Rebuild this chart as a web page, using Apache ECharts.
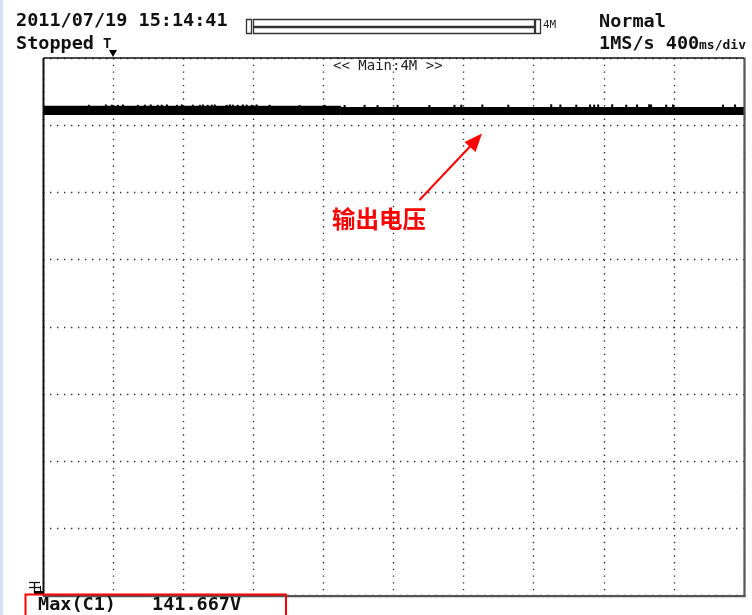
<!DOCTYPE html>
<html>
<head>
<meta charset="utf-8">
<title>输出电压</title>
<script src="https://cdn.jsdelivr.net/npm/echarts@6/dist/echarts.min.js"></script>
<style>
  html, body { margin: 0; padding: 0; background: #ffffff; }
  #chart { width: 752px; height: 615px; }
</style>
</head>
<body>
<div id="chart"></div>
<script>
// Time base: 400 ms/div, 10 divisions
const timeMinMs = 0;
const timeMaxMs = 4000;
const timeDivMs = 400;

// Vertical scale: 8 divisions, 0 V at the ground marker
const voltMin = 0;
const voltMax = 155;
const voltDiv = 19.375;

// Output-voltage envelope (solid band of the compressed trace)
const bandStartMs = [0, 1700];
const bandEndMs   = [1700, 4000];
const bandLowV    = [138.6, 138.6];
const bandHighV   = [141.25, 140.9];

// Short positive peaks riding on the envelope
const spikeMs = [262, 359, 393, 427, 456, 541, 581, 615, 655, 678, 707, 764, 792, 855, 895, 912, 940, 963, 980,
  1048, 1066, 1083, 1111, 1140, 1162, 1191, 1219, 1293, 1464, 1607, 1721, 1835, 1909, 2023, 2205, 2348, 2387,
  2507, 2655, 2900, 2952, 3043, 3122, 3145, 3168, 3248, 3328, 3390, 3459, 3470, 3556, 3595, 3880, 3949];
const spikeTopV = [141.5, 141.6, 141.55, 141.5, 141.6, 141.5, 141.55, 141.6, 141.5, 141.55, 141.6, 141.5, 141.6, 141.55, 141.5, 141.6, 141.5, 141.55, 141.6,
  141.5, 141.6, 141.55, 141.5, 141.6, 141.55, 141.5, 141.6, 141.5, 141.45, 141.5, 141.45, 141.5, 141.45, 141.5, 141.45, 141.5, 141.55,
  141.6, 141.55, 141.667, 141.6, 141.55, 141.6, 141.55, 141.6, 141.667, 141.55, 141.6, 141.667, 141.6, 141.55, 141.6, 141.55, 141.6];

const maxReading = '141.667V';

const bandData = bandStartMs.map((t, i) => [t, bandEndMs[i], bandLowV[i], bandHighV[i]]);
const spikeData = spikeMs.map((t, i) => [t, spikeTopV[i], bandLowV[t < bandEndMs[0] ? 0 : 1]]);

const MONO = '"DejaVu Sans Mono", "Liberation Mono", monospace';
const big = 'bold 18.5px ' + MONO;

const chart = echarts.init(document.getElementById('chart'), null, { renderer: 'canvas' });

function txt(text, x, y, font, fill, extra) {
  return Object.assign({
    type: 'text', z: 120, silent: true,
    style: { text: text, x: x, y: y, font: font, fill: fill || '#111', textVerticalAlign: 'middle', textAlign: 'left' }
  }, extra || {});
}
function seg(x1, y1, x2, y2, stroke, w) {
  return { type: 'line', z: 110, silent: true, shape: { x1: x1, y1: y1, x2: x2, y2: y2 }, style: { stroke: stroke, lineWidth: w } };
}
function box(x, y, w, h, stroke, lw) {
  return { type: 'rect', z: 110, silent: true, shape: { x: x, y: y, width: w, height: h }, style: { fill: null, stroke: stroke, lineWidth: lw } };
}

const option = {
  animation: false,
  backgroundColor: '#ffffff',
  grid: { left: 43, top: 58, width: 701, height: 537.6, show: false },
  xAxis: {
    type: 'value', min: timeMinMs, max: timeMaxMs, interval: timeDivMs,
    axisLine: { show: false }, axisTick: { show: false }, axisLabel: { show: false },
    splitLine: { show: true, lineStyle: { color: '#333', width: 1.4, type: [1.4, 5.32] } }
  },
  yAxis: {
    type: 'value', min: voltMin, max: voltMax, interval: voltDiv,
    axisLine: { show: false }, axisTick: { show: false }, axisLabel: { show: false },
    splitLine: { show: true, lineStyle: { color: '#333', width: 1.4, type: [1.4, 5.6] } }
  },
  series: [
    {
      name: '输出电压',
      type: 'custom',
      data: bandData,
      z: 5,
      renderItem: function (params, api) {
        const a = api.coord([api.value(0), api.value(3)]);
        const b = api.coord([api.value(1), api.value(2)]);
        return { type: 'rect', shape: { x: a[0], y: a[1], width: b[0] - a[0], height: b[1] - a[1] }, style: { fill: '#000' } };
      }
    },
    {
      name: 'peaks',
      type: 'custom',
      data: spikeData,
      z: 6,
      renderItem: function (params, api) {
        const top = api.coord([api.value(0), api.value(1)]);
        const base = api.coord([api.value(0), api.value(2)]);
        return { type: 'rect', shape: { x: top[0] - 1, y: top[1], width: 2, height: base[1] - top[1] }, style: { fill: '#000' } };
      }
    }
  ],
  graphic: [
    // window edge tint
    { type: 'rect', z: 100, silent: true, shape: { x: 0, y: 0, width: 3, height: 615 }, style: { fill: '#d4e4f2' } },

    // screen frame: dark top/left, shaded right/bottom
    seg(43.5, 58, 744, 58, '#111', 1.5),
    seg(43.5, 58, 43.5, 596, '#111', 2),
    seg(744.5, 57.5, 744.5, 597, '#555', 2.2),
    seg(43, 596.2, 745.5, 596.2, '#555', 2.2),

    // header
    txt('2011/07/19 15:14:41', 16, 21.5, big),
    txt('Stopped', 16, 44.5, big),
    txt('T', 103, 44, 'bold 14px ' + MONO),
    { type: 'polygon', z: 115, silent: true, shape: { points: [[109, 50], [117, 50], [113, 57]] }, style: { fill: '#000' } },

    // record-length bar
    box(246.5, 19.5, 5, 14, '#333', 1.3),
    box(253.5, 19.5, 281, 7, '#333', 1.3),
    box(253.5, 27.5, 281, 6, '#333', 1.3),
    box(535.5, 19.5, 5, 14, '#333', 1.3),
    txt('4M', 543, 25.5, '11px ' + MONO, '#222'),

    txt('Normal', 599, 22, big),
    txt('1MS/s 400', 599, 44.5, big),
    txt('ms/div', 699, 46, 'bold 13px ' + MONO),

    txt('<< Main:4M >>', 333, 66, '14px ' + MONO, '#222'),

    // annotation
    txt('输出电压', 332, 219.5, 'bold 23.5px "Noto Sans CJK SC"', '#ff0000'),
    seg(419.5, 200, 470, 146.5, '#ff0000', 2),
    { type: 'polygon', z: 115, silent: true, shape: { points: [[482, 133.5], [475.5, 152], [464.5, 142]] }, style: { fill: '#ff0000' } },

    // ground / channel marker
    seg(29, 582.5, 40, 582.5, '#111', 1.3),
    seg(29, 587.5, 41, 587.5, '#111', 1.3),
    seg(34.5, 582, 34.5, 593, '#111', 1.3),
    seg(40.5, 586, 40.5, 592, '#111', 1.2),
    { type: 'rect', z: 112, silent: true, shape: { x: 34, y: 591, width: 9, height: 3 }, style: { fill: '#000' } },

    // measurement readout
    { type: 'rect', z: 118, silent: true, shape: { x: 25.5, y: 594.5, width: 260.5, height: 30 }, style: { fill: null, stroke: '#ff0000', lineWidth: 2 } },
    txt('Max(C1)', 38, 605.5, big),
    txt(maxReading, 152, 605.5, big)
  ]
};

chart.setOption(option);
</script>
</body>
</html>
